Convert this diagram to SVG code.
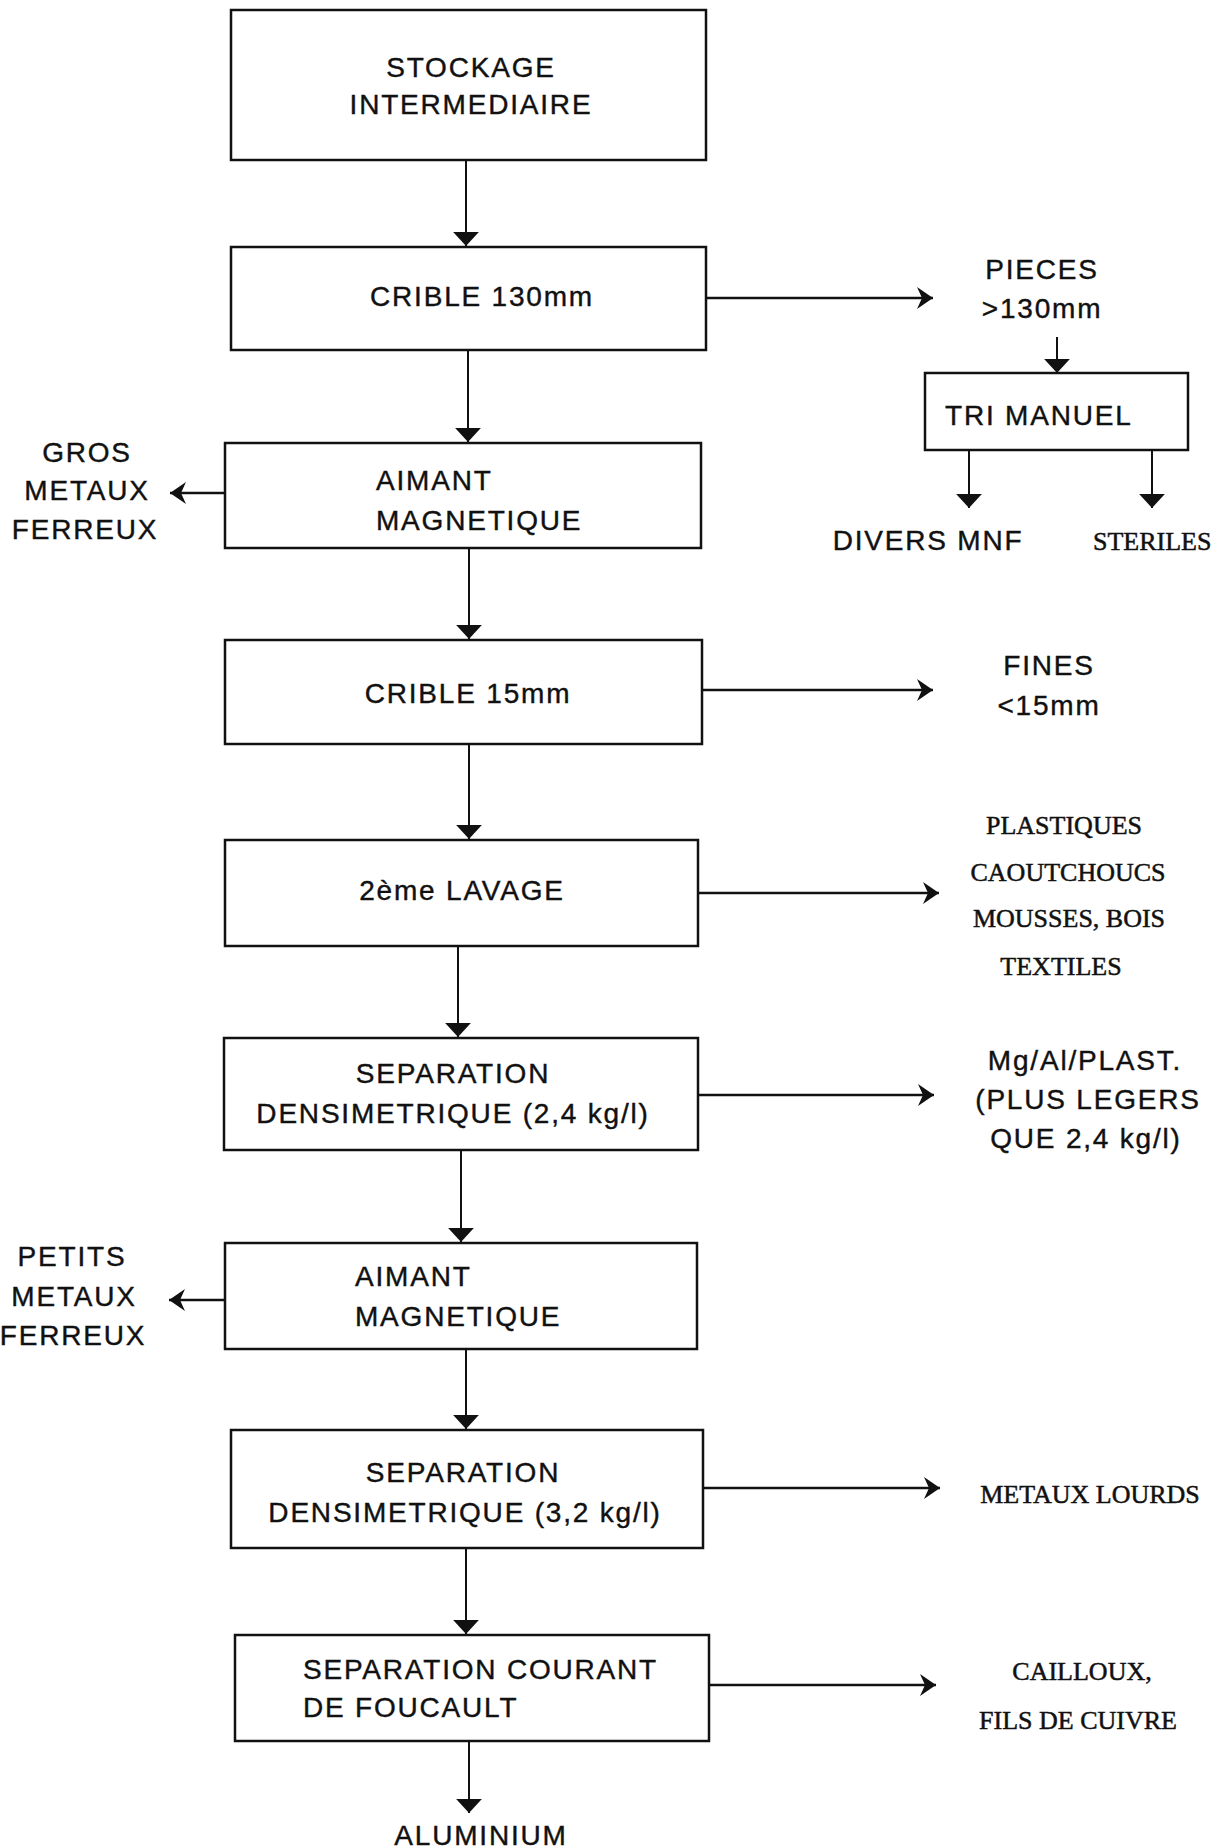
<svg xmlns="http://www.w3.org/2000/svg" width="1218" height="1848" viewBox="0 0 1218 1848">
<defs>
<style>
.box{fill:#fff;stroke:#111;stroke-width:2.5}
.t{font-family:"Liberation Sans",Arial,sans-serif;font-size:28px;letter-spacing:1.8px;fill:#111;stroke:#111;stroke-width:0.4}
.c{text-anchor:middle}
.s{font-family:"Liberation Serif","Times New Roman",serif;font-size:26px;fill:#111;stroke:#111;stroke-width:0.5}
.ln{stroke:#111;stroke-width:2;fill:none}
.v{marker-end:url(#tri)}
.h{stroke-width:2.5;marker-end:url(#barb)}
</style>
<marker id="tri" markerUnits="userSpaceOnUse" markerWidth="20" markerHeight="30" refX="13" refY="0" viewBox="-2 -14 18 28" orient="auto" overflow="visible">
<path d="M0,-12 L13,0 L0,12 Z" fill="#111"/>
</marker>
<marker id="barb" markerUnits="userSpaceOnUse" markerWidth="20" markerHeight="30" refX="16" refY="0" viewBox="-2 -14 20 28" orient="auto" overflow="visible">
<path d="M16,0 L0,-11 L5,0 L0,11 Z" fill="#111"/>
</marker>
</defs>
<rect width="1218" height="1848" fill="#fff"/>

<g id="connectors">
<line class="ln v" x1="466" y1="160" x2="466" y2="246"/>
<line class="ln h" x1="706" y1="298" x2="933" y2="298"/>
<line class="ln v" x1="1057" y1="337" x2="1057" y2="373"/>
<line class="ln v" x1="969" y1="450" x2="969" y2="508"/>
<line class="ln v" x1="1152" y1="450" x2="1152" y2="508"/>
<line class="ln v" x1="468" y1="350" x2="468" y2="442"/>
<line class="ln h" x1="225" y1="493" x2="170" y2="493"/>
<line class="ln v" x1="469" y1="548" x2="469" y2="639"/>
<line class="ln h" x1="702" y1="690" x2="933" y2="690"/>
<line class="ln v" x1="469" y1="744" x2="469" y2="839"/>
<line class="ln h" x1="698" y1="893" x2="939" y2="893"/>
<line class="ln v" x1="458" y1="946" x2="458" y2="1037"/>
<line class="ln h" x1="698" y1="1095" x2="934" y2="1095"/>
<line class="ln v" x1="461" y1="1150" x2="461" y2="1242"/>
<line class="ln h" x1="225" y1="1300" x2="169" y2="1300"/>
<line class="ln v" x1="466" y1="1349" x2="466" y2="1429"/>
<line class="ln h" x1="703" y1="1488" x2="940" y2="1488"/>
<line class="ln v" x1="466" y1="1548" x2="466" y2="1634"/>
<line class="ln h" x1="709" y1="1685" x2="936" y2="1685"/>
<line class="ln v" x1="469" y1="1741" x2="469" y2="1813"/>
</g>

<g id="stockage">
<rect class="box" x="231" y="10" width="475" height="150"/>
<text class="t c" x="471" y="77">STOCKAGE</text>
<text class="t c" x="471" y="114">INTERMEDIAIRE</text>
</g>
<g id="crible130">
<rect class="box" x="231" y="247" width="475" height="103"/>
<text class="t c" x="482" y="306">CRIBLE 130mm</text>
</g>
<g id="pieces">
<text class="t c" x="1042" y="279">PIECES</text>
<text class="t c" x="1042" y="318">&gt;130mm</text>
</g>
<g id="trimanuel">
<rect class="box" x="925" y="373" width="263" height="77"/>
<text class="t" x="945" y="425">TRI MANUEL</text>
</g>
<g id="diversmnf">
<text class="t c" x="928" y="550">DIVERS MNF</text>
</g>
<g id="steriles">
<text class="s" x="1093" y="550">STERILES</text>
</g>
<g id="aimant1">
<rect class="box" x="225" y="443" width="476" height="105"/>
<text class="t" x="376" y="490">AIMANT</text>
<text class="t" x="376" y="530">MAGNETIQUE</text>
</g>
<g id="gros">
<text class="t c" x="87" y="462">GROS</text>
<text class="t c" x="87" y="500">METAUX</text>
<text class="t c" x="85" y="539">FERREUX</text>
</g>
<g id="crible15">
<rect class="box" x="225" y="640" width="477" height="104"/>
<text class="t c" x="468" y="703">CRIBLE 15mm</text>
</g>
<g id="fines">
<text class="t c" x="1049" y="675">FINES</text>
<text class="t c" x="1049" y="715">&lt;15mm</text>
</g>
<g id="lavage">
<rect class="box" x="225" y="840" width="473" height="106"/>
<text class="t c" x="462" y="900">2ème LAVAGE</text>
</g>
<g id="plastiques">
<text class="s c" x="1064" y="834">PLASTIQUES</text>
<text class="s c" x="1068" y="881">CAOUTCHOUCS</text>
<text class="s c" x="1069" y="927">MOUSSES, BOIS</text>
<text class="s c" x="1061" y="975">TEXTILES</text>
</g>
<g id="sep24">
<rect class="box" x="224" y="1038" width="474" height="112"/>
<text class="t c" x="453" y="1083">SEPARATION</text>
<text class="t c" x="453" y="1123">DENSIMETRIQUE (2,4 kg/l)</text>
</g>
<g id="mgal">
<text class="t c" x="1085" y="1070">Mg/Al/PLAST.</text>
<text class="t c" x="1088" y="1109">(PLUS LEGERS</text>
<text class="t c" x="1086" y="1148">QUE 2,4 kg/l)</text>
</g>
<g id="aimant2">
<rect class="box" x="225" y="1243" width="472" height="106"/>
<text class="t" x="355" y="1286">AIMANT</text>
<text class="t" x="355" y="1326">MAGNETIQUE</text>
</g>
<g id="petits">
<text class="t c" x="72" y="1266">PETITS</text>
<text class="t c" x="74" y="1306">METAUX</text>
<text class="t c" x="73" y="1345">FERREUX</text>
</g>
<g id="sep32">
<rect class="box" x="231" y="1430" width="472" height="118"/>
<text class="t c" x="463" y="1482">SEPARATION</text>
<text class="t c" x="465" y="1522">DENSIMETRIQUE (3,2 kg/l)</text>
</g>
<g id="metauxlourds">
<text class="s c" x="1090" y="1503">METAUX LOURDS</text>
</g>
<g id="foucault">
<rect class="box" x="235" y="1635" width="474" height="106"/>
<text class="t" x="303" y="1679">SEPARATION COURANT</text>
<text class="t" x="303" y="1717">DE FOUCAULT</text>
</g>
<g id="cailloux">
<text class="s c" x="1082" y="1680">CAILLOUX,</text>
<text class="s c" x="1078" y="1729">FILS DE CUIVRE</text>
</g>
<g id="aluminium">
<text class="t c" x="481" y="1845">ALUMINIUM</text>
</g>
</svg>
